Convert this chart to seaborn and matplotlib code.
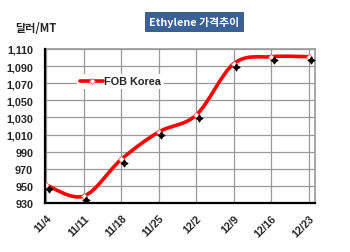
import numpy as np
import pandas as pd
import matplotlib
matplotlib.use("Agg")
import matplotlib.pyplot as plt
import seaborn as sns
from matplotlib.path import Path
from matplotlib.patches import PathPatch
from matplotlib.lines import Line2D
import matplotlib.transforms as mtransforms

dates = ["11/4", "11/11", "11/18", "11/25", "12/2", "12/9", "12/16", "12/23"]
fob_korea = [951, 938, 981, 1013, 1033, 1093, 1101, 1101]
y_ticks = [930, 950, 970, 990, 1010, 1030, 1050, 1070, 1090, 1110]
series_name = "FOB Korea"
title = "Ethylene 가격추이"
unit_label = "달러/MT"

sns.set_style("white")
plt.rcParams['font.family'] = ['Liberation Sans', 'DejaVu Sans']
KR = ['Noto Sans CJK KR', 'DejaVu Sans']

df = pd.DataFrame({"idx": np.arange(len(dates)), "value": fob_korea})

fig = plt.figure(figsize=(3.5, 2.53), dpi=100)
ax = fig.add_axes([45/350, 1-204/253, 270/350, 154/253])

ax.set_xlim(-0.03, 7.16)
ax.set_ylim(930, 1110)

# grid
for yv in y_ticks:
    ax.axhline(yv, color="#999999", lw=0.9, zorder=1)
for i in range(len(dates)):
    ax.axvline(i, color="#999999", lw=0.9, zorder=1)

# smooth line (Catmull-Rom bezier through data points)
pts = df[["idx", "value"]].to_numpy(dtype=float)
verts = [tuple(pts[0])]
codes = [Path.MOVETO]
n = len(pts)
for i in range(n - 1):
    p0 = pts[i - 1] if i > 0 else pts[i]
    p1 = pts[i]
    p2 = pts[i + 1]
    p3 = pts[i + 2] if i + 2 < n else pts[i + 1]
    c1 = p1 + (p2 - p0) / 6.0
    c2 = p2 - (p3 - p1) / 6.0
    verts += [tuple(c1), tuple(c2), tuple(p2)]
    codes += [Path.CURVE4] * 3
ax.add_patch(PathPatch(Path(verts, codes), facecolor="none", edgecolor="#ff0000",
                       lw=2.6, zorder=3, capstyle="round", transform=ax.transData))

# black shadow markers (offset)
off = mtransforms.ScaledTranslation(2.5/100, -3.5/100, fig.dpi_scale_trans)
sns.scatterplot(data=df, x="idx", y="value", ax=ax, marker=(4, 1, 0), s=24,
                color="black", edgecolor="black", linewidth=0.9, zorder=4,
                legend=False, transform=ax.transData + off)
# red diamond markers
sns.scatterplot(data=df, x="idx", y="value", ax=ax, marker="D", s=10,
                facecolor="white", edgecolor="#ff6060", linewidth=0.6, zorder=3.5,
                legend=False)

ax.set_xticks(range(len(dates)))
ax.set_xticklabels(dates, rotation=45, ha="right", rotation_mode="anchor",
                   fontsize=7.6, fontweight="bold")
ax.set_yticks(y_ticks)
ax.set_yticklabels([f"{v:,}" for v in y_ticks], fontsize=7.8, fontweight="bold")
ax.tick_params(axis="x", direction="in", length=4, width=1.2, pad=7, color="black")
ax.tick_params(axis="y", length=0, pad=8.5)
ax.set_xlabel("")
ax.set_ylabel("")

for s in ["left", "bottom"]:
    ax.spines[s].set_color("black")
    ax.spines[s].set_linewidth(1.6)
    ax.spines[s].set_zorder(5)
for s in ["top", "right"]:
    ax.spines[s].set_color("#999999")
    ax.spines[s].set_linewidth(1.2)

handle = Line2D([0], [0], color="#ff0000", lw=2.6, marker="D", markersize=3,
                markerfacecolor="white", markeredgecolor="#ff6060", markeredgewidth=0.6)
leg = ax.legend([handle], [series_name], loc="center left", bbox_to_anchor=(0.10, 0.79),
                frameon=True, handlelength=2.2, handletextpad=0.1, borderpad=0.2,
                prop={"weight": "bold", "size": 7.8})
leg.get_frame().set_facecolor("white")
leg.get_frame().set_edgecolor("none")
leg.get_frame().set_alpha(1)

# title box
fig.text(194/350, 1-22.5/253, title, ha="center", va="center", color="white",
         fontsize=7.8, family=KR, fontweight="bold",
         bbox=dict(boxstyle="square,pad=0.4", facecolor="#3a6096", edgecolor="#2d4f7c", lw=0.6))
fig.text(15/350, 1-28/253, unit_label, ha="left", va="center", fontsize=8,
         family=KR, fontweight="bold")

fig.savefig("out.png", dpi=100)
